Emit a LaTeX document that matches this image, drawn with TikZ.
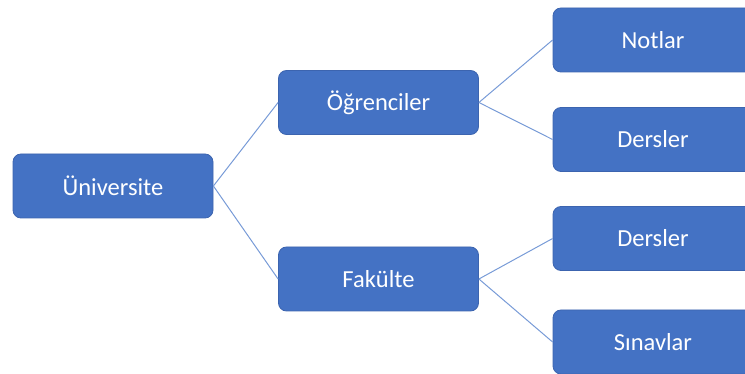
\documentclass[tikz,border=0pt]{standalone}
\usepackage{fontspec}
\setmainfont{Carlito}
\definecolor{boxfill}{RGB}{68,114,196}
\definecolor{boxline}{RGB}{60,100,175}
\definecolor{linkcol}{RGB}{120,155,215}
\begin{document}
\begin{tikzpicture}[x=1pt,y=-1pt,
  box/.style={draw=boxline,line width=0.8pt,fill=boxfill,rounded corners=8pt,
    minimum width=200pt,minimum height=64pt,inner sep=0pt,text=white,
    font=\fontsize{24.5}{28}\selectfont},
  link/.style={draw=linkcol,line width=1pt}]
\useasboundingbox (0,0) rectangle (745,374);
\clip (0,0) rectangle (745,374);
\node[box] (uni) at (113,186) {Üniversite};
\node[box] (ogr) at (378.5,102.5) {Öğrenciler};
\node[box] (fak) at (378.5,279) {Fakülte};
\node[box] (not) at (653,40) {Notlar};
\node[box] (der1) at (653,139.5) {Dersler};
\node[box] (der2) at (653,238.5) {Dersler};
\node[box] (sin) at (653,342) {Sınavlar};
\draw[link] (uni.east) -- (ogr.west);
\draw[link] (uni.east) -- (fak.west);
\draw[link] (ogr.east) -- (not.west);
\draw[link] (ogr.east) -- (der1.west);
\draw[link] (fak.east) -- (der2.west);
\draw[link] (fak.east) -- (sin.west);
\end{tikzpicture}
\end{document}
